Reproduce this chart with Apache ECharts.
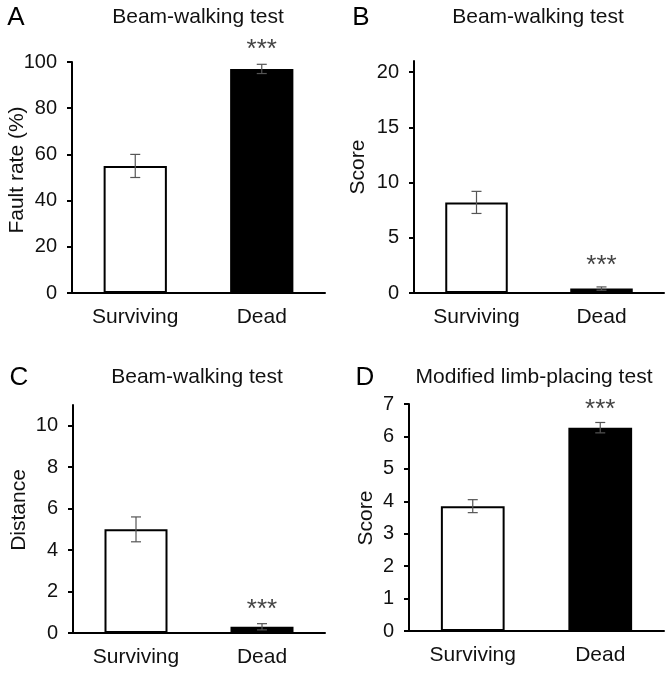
<!DOCTYPE html>
<html>
<head>
<meta charset="utf-8">
<script src="https://cdn.jsdelivr.net/npm/echarts@6/dist/echarts.min.js"></script>
<style>
html,body{margin:0;padding:0;background:#fff;}
#chart{width:672px;height:675px;}
</style>
</head>
<body>
<div id="chart"></div>
<script>
// ---- data ----
const categories = ['Surviving', 'Dead'];
const significance = ['', '***'];

const meansA = [55, 97];
const errA = [5, 2];
const ticksA = [0, 20, 40, 60, 80, 100];

const meansB = [8.2, 0.4];
const errB = [1.0, 0.15];
const ticksB = [0, 5, 10, 15, 20];

const meansC = [5.0, 0.3];
const errC = [0.6, 0.15];
const ticksC = [0, 2, 4, 6, 8, 10];

const meansD = [3.85, 6.27];
const errD = [0.2, 0.16];
const ticksD = [0, 1, 2, 3, 4, 5, 6, 7];

const titles = ['Beam-walking test', 'Beam-walking test', 'Beam-walking test', 'Modified limb-placing test'];
const letters = ['A', 'B', 'C', 'D'];
const yNames = ['Fault rate (%)', 'Score', 'Distance', 'Score'];

// ---- layout / style ----
const FONT = 'Liberation Sans, Arial, Helvetica, sans-serif';
const panels = [
  { means: meansA, err: errA, ticks: ticksA, max: 100, grid: { left: 72, top: 62, width: 253, height: 231 }, starOff: 14,
    titlePos: [198, 17], letterPos: [16, 18], namePos: [17, 170] },
  { means: meansB, err: errB, ticks: ticksB, max: 21, grid: { left: 414, top: 61, width: 250, height: 232 }, starOff: 21,
    titlePos: [538, 17], letterPos: [361, 18], namePos: [358, 167] },
  { means: meansC, err: errC, ticks: ticksC, max: 11, grid: { left: 73, top: 405, width: 252, height: 228 }, starOff: 14,
    titlePos: [197, 377], letterPos: [19, 378], namePos: [19, 510] },
  { means: meansD, err: errD, ticks: ticksD, max: 7, grid: { left: 409, top: 404, width: 255, height: 227 }, starOff: 13,
    titlePos: [534, 377], letterPos: [365, 378], namePos: [366, 518] }
];

const chart = echarts.init(document.getElementById('chart'));

const grids = [], xAxes = [], yAxes = [], series = [], graphics = [];

panels.forEach((p, i) => {
  grids.push(Object.assign({ containLabel: false }, p.grid));
  xAxes.push({
    type: 'category', gridIndex: i, data: categories,
    axisLine: { lineStyle: { color: '#000', width: 2 } },
    axisTick: { show: false },
    axisLabel: { color: '#111', fontSize: 21, fontFamily: FONT, margin: 14 }
  });
  yAxes.push({
    type: 'value', gridIndex: i, min: 0, max: p.max,
    splitLine: { show: false },
    axisLine: { show: true, lineStyle: { color: '#000', width: 2 } },
    axisTick: { show: true, length: 5, lineStyle: { color: '#000', width: 2 }, customValues: p.ticks },
    axisLabel: { color: '#111', fontSize: 20, fontFamily: FONT, margin: 15, customValues: p.ticks }
  });
  series.push({
    type: 'bar', xAxisIndex: i, yAxisIndex: i, barWidth: '50%',
    data: p.means.map((v, k) => ({
      value: v,
      itemStyle: { color: k === 0 ? '#fff' : '#000', borderColor: '#000', borderWidth: 2 }
    })),
    silent: true
  });
  series.push({
    type: 'custom', xAxisIndex: i, yAxisIndex: i, silent: true, z: 5,
    data: p.means.map((v, k) => [k, v, p.err[k]]),
    renderItem: function (params, api) {
      const x = api.value(0), m = api.value(1), e = api.value(2);
      const top = api.coord([x, m + e]);
      const bot = api.coord([x, m - e]);
      const cap = 5;
      const st = { stroke: '#555', lineWidth: 1.2 };
      const children = [
        { type: 'line', shape: { x1: top[0], y1: top[1], x2: bot[0], y2: bot[1] }, style: st },
        { type: 'line', shape: { x1: top[0] - cap, y1: top[1], x2: top[0] + cap, y2: top[1] }, style: st },
        { type: 'line', shape: { x1: bot[0] - cap, y1: bot[1], x2: bot[0] + cap, y2: bot[1] }, style: st }
      ];
      const sig = significance[params.dataIndex];
      if (sig) {
        children.push({
          type: 'text', x: top[0], y: top[1] - p.starOff,
          style: { text: sig, fill: '#444', font: '26px ' + FONT, textAlign: 'center', textVerticalAlign: 'middle' }
        });
      }
      return { type: 'group', children: children };
    }
  });
  graphics.push({
    type: 'text', x: p.titlePos[0], y: p.titlePos[1],
    style: { text: titles[i], fill: '#111', font: '21px ' + FONT, textAlign: 'center', textVerticalAlign: 'middle' }
  });
  graphics.push({
    type: 'text', x: p.letterPos[0], y: p.letterPos[1],
    style: { text: letters[i], fill: '#000', font: '26px ' + FONT, textAlign: 'center', textVerticalAlign: 'middle' }
  });
  graphics.push({
    type: 'text', x: p.namePos[0], y: p.namePos[1], rotation: Math.PI / 2,
    style: { text: yNames[i], fill: '#111', font: '21px ' + FONT, textAlign: 'center', textVerticalAlign: 'middle' }
  });
});

chart.setOption({
  animation: false,
  backgroundColor: '#fff',
  grid: grids, xAxis: xAxes, yAxis: yAxes, series: series, graphic: graphics
});
</script>
</body>
</html>
